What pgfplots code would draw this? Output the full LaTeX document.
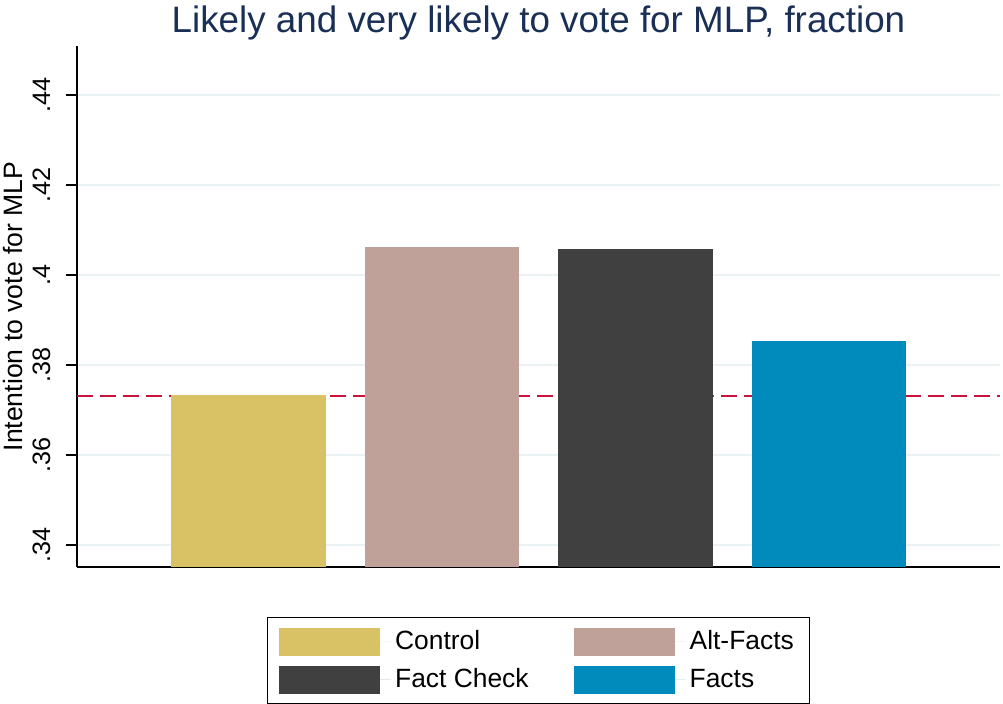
\documentclass[border=0pt]{standalone}
\usepackage{pgfplots}
\pgfplotsset{compat=1.18}
\usepackage{fontspec}
\setmainfont{Liberation Sans}

\definecolor{cgold}{RGB}{217,194,101}
\definecolor{ctaupe}{RGB}{191,161,154}
\definecolor{cdark}{RGB}{64,64,64}
\definecolor{cblue}{RGB}{0,139,188}
\definecolor{cgrid}{RGB}{234,242,243}
\definecolor{cline}{RGB}{200,20,60}
\definecolor{ctitle}{RGB}{26,47,86}

\begin{document}
\begin{tikzpicture}
\begin{axis}[
    scale only axis,
    width=461.5pt, height=260.5pt,
    xmin=0.114, xmax=4.884,
    ymin=0.3351, ymax=0.4509,
    axis x line*=bottom, axis y line*=left,
    axis line style={-, line width=0.6pt},
    xtick=\empty,
    ytick={0.34,0.36,0.38,0.40,0.42,0.44},
    yticklabels={.34,.36,.38,.4,.42,.44},
    tick align=outside,
    major tick length=5.5pt,
    tick style={line width=0.6pt, black},
    ymajorgrids,
    grid style={cgrid, line width=0.8pt},
    yticklabel style={rotate=90, anchor=base, yshift=8pt,
        font=\fontsize{12.6}{15}\selectfont},
    ylabel={Intention to vote for MLP},
    ylabel style={at={(axis description cs:0,0.5)}, anchor=base, yshift=27pt,
        font=\fontsize{13.3}{16}\selectfont},
    title={Likely and very likely to vote for MLP, fraction},
    every axis title shift=0pt,
    title style={at={(0.5,1)}, anchor=base, yshift=6.5pt, color=ctitle,
        font=\fontsize{18.4}{22}\selectfont},
    ybar, bar width=0.8,
    legend columns=2,
    legend cell align=left,
    legend image code/.code={\fill[#1] (0pt,-7pt) rectangle (50.5pt,7pt);
        \path (0pt,0pt) -- (56pt,0pt);},
    legend style={at={(0.5,0)}, anchor=north, yshift=-25pt, draw=black,
        line width=0.6pt, font=\fontsize{13.2}{16}\selectfont,
        row sep=4pt, inner xsep=6pt, inner ysep=4.5pt,
        /tikz/every even column/.append style={column sep=20.5pt}},
]
\addplot[sharp plot, cline, line width=1.3pt, dash pattern=on 7.8pt off 3.7pt, forget plot]
    coordinates {(0.114,0.3731) (4.884,0.3731)};
\addplot[fill=cgold, draw=none, bar shift=0pt] coordinates {(1,0.3733)};
\addplot[fill=ctaupe, draw=none, bar shift=0pt] coordinates {(2,0.4062)};
\addplot[fill=cdark, draw=none, bar shift=0pt] coordinates {(3,0.4058)};
\addplot[fill=cblue, draw=none, bar shift=0pt] coordinates {(4,0.3853)};
\legend{Control, Alt-Facts, Fact Check, Facts}
\end{axis}
\pgfresetboundingbox
\path (current axis.south west) ++(-38.5pt,-68.5pt) rectangle ++(501.5pt,352pt);
\end{tikzpicture}
\end{document}
